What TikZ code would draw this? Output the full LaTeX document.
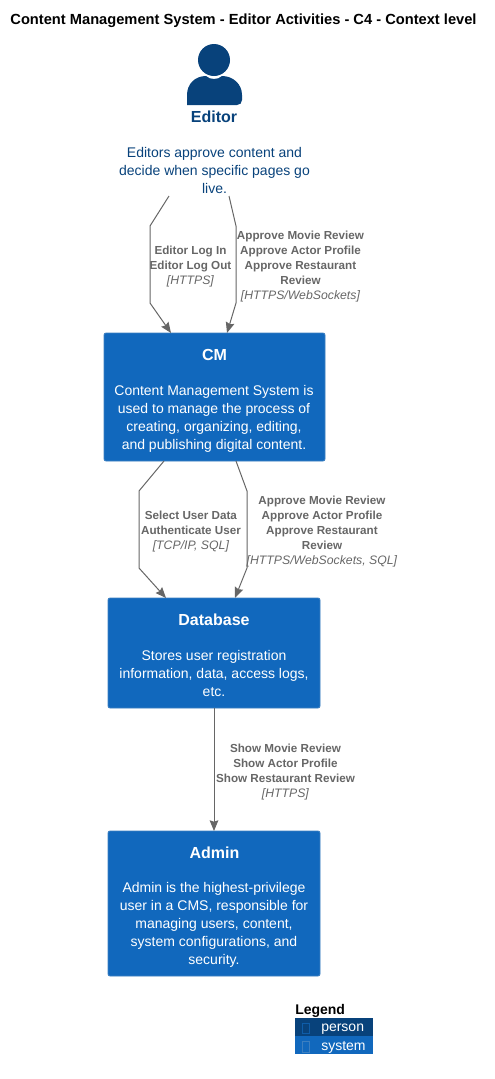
\documentclass[tikz,border=0pt]{standalone}
\usepackage{fontspec}
\setmainfont{Liberation Sans}
\usetikzlibrary{arrows.meta, calc, positioning}
\definecolor{personblue}{HTML}{08427B}
\definecolor{systemblue}{HTML}{1168BD}
\definecolor{systemedge}{HTML}{3C7FC0}
\definecolor{relgrey}{HTML}{666666}
\newcommand{\relb}[1]{\textbf{\fontsize{8.75}{11.25}\selectfont #1}}
\newcommand{\reli}[1]{\textit{\fontsize{9.2}{11.25}\selectfont #1}}
\begin{document}
\begin{tikzpicture}
	[x=0.75pt, y=-0.75pt,
	system/.style={draw=systemedge, fill=systemblue, rounded corners=1.5pt, text=white, inner sep=0pt, line width=0.6pt},
	boxtitle/.style={text=white, font=\fontsize{12}{15}\selectfont\bfseries, inner sep=0pt},
	boxtext/.style={text=white, align=center, font=\fontsize{10.5}{13.5}\selectfont, inner sep=0pt},
	rel/.style={draw=relgrey, line width=0.75pt, -{Stealth[length=8pt, width=6.5pt, inset=1pt]}},
	rellabel/.style={text=relgrey, align=center, font=\fontsize{9}{11.25}\selectfont, inner sep=0pt},
	legendrow/.style={minimum width=58.5pt, minimum height=13.5pt, inner sep=0pt, text=white, font=\fontsize{10.5}{12}\selectfont}]
	\useasboundingbox (0,0) rectangle (494,1079);
	\node[font=\fontsize{11}{12}\selectfont\bfseries, inner sep=0pt] (title) at (243.5,20.5) {Content Management System - Editor Activities - C4 - Context level};

	% person
	\fill[personblue] (214,60) circle (16);
	\fill[personblue] (187,105) -- (187,95) .. controls (187,84) and (195,76) .. (206,76) .. controls (210,80) and (218,80) .. (222,76) .. controls (233,76) and (242,84) .. (242,95) -- (242,100) .. controls (242,103) and (240,105) .. (237,105) -- cycle;
	\node[text=personblue, font=\fontsize{12}{15}\selectfont\bfseries, inner sep=0pt] (editor) at (214,117) {Editor};
	\node[text=personblue, align=center, font=\fontsize{10.5}{13.5}\selectfont, inner sep=0pt] (editortext) at (214.5,170.5) {Editors approve content and\\decide when specific pages go\\live.};
	\coordinate (e1) at (169,196);
	\coordinate (e2) at (229,196);

	% boxes
	\path[system] (104,333) rectangle (325,461);
	\node[boxtitle] (cmtitle) at (214.5,355) {CM};
	\node[boxtext] (cmtext) at (214,418.5) {Content Management System is\\used to manage the process of\\creating, organizing, editing,\\and publishing digital content.};

	\path[system] (108,598) rectangle (320,708);
	\node[boxtitle] (dbtitle) at (214,620) {Database};
	\node[boxtext] (dbtext) at (214,673.5) {Stores user registration\\information, data, access logs,\\etc.};

	\path[system] (108,831) rectangle (320,976);
	\node[boxtitle] (admintitle) at (214.5,853) {Admin};
	\node[boxtext] (admintext) at (214,925) {Admin is the highest-privilege\\user in a CMS, responsible for\\managing users, content,\\system configurations, and\\security.};

	% connectors
	\draw[rel] (e1) -- (150,226) -- (150,303) -- (171,333);
	\draw[rel] (e2) -- (236,226) -- (236,303) -- (227,333);
	\draw[rel] (164,461) -- (139,491) -- (139,568) -- (166,598);
	\draw[rel] (236,461) -- (247,491) -- (247,568) -- (235,598);
	\draw[rel] (214,708) -- (214,831);

	% labels
	\node[rellabel] (l1) at (190.5,267) {\relb{Editor Log In}\\\relb{Editor Log Out}\\\reli{[HTTPS]}};
	\node[rellabel] (l2) at (300.5,267) {\relb{Approve Movie Review}\\\relb{Approve Actor Profile}\\\relb{Approve Restaurant}\\\relb{Review}\\\reli{[HTTPS/WebSockets]}};
	\node[rellabel] (l3) at (191,532) {\relb{Select User Data}\\\relb{Authenticate User}\\\reli{[TCP/IP, SQL]}};
	\node[rellabel] (l4) at (322,532) {\relb{Approve Movie Review}\\\relb{Approve Actor Profile}\\\relb{Approve Restaurant}\\\relb{Review}\\\reli{[HTTPS/WebSockets, SQL]}};
	\node[rellabel] (l5) at (285.5,772) {\relb{Show Movie Review}\\\relb{Show Actor Profile}\\\relb{Show Restaurant Review}\\\reli{[HTTPS]}};

	% legend
	\node[font=\fontsize{10.5}{12}\selectfont\bfseries, inner sep=0pt, anchor=west] (legend) at (295,1011) {Legend};
	\node[legendrow, fill=personblue, anchor=north west] (lperson) at (295,1018) {};
	\node[legendrow, fill=systemblue, anchor=north west] (lsystem) at (295,1036) {};
	\node[text=white, font=\fontsize{10.5}{12}\selectfont, inner sep=0pt, anchor=west] (lpersontext) at (321,1029) {person};
	\node[text=white, font=\fontsize{10.5}{12}\selectfont, inner sep=0pt, anchor=west] (lsystemtext) at (321,1047) {system};
	\draw[systemblue!70!personblue, line width=0.5pt] (302.5,1023.5) rectangle (309.5,1033.5);
	\draw[systemedge, line width=0.5pt] (302.5,1041.5) rectangle (309.5,1052);
\end{tikzpicture}
\end{document}
